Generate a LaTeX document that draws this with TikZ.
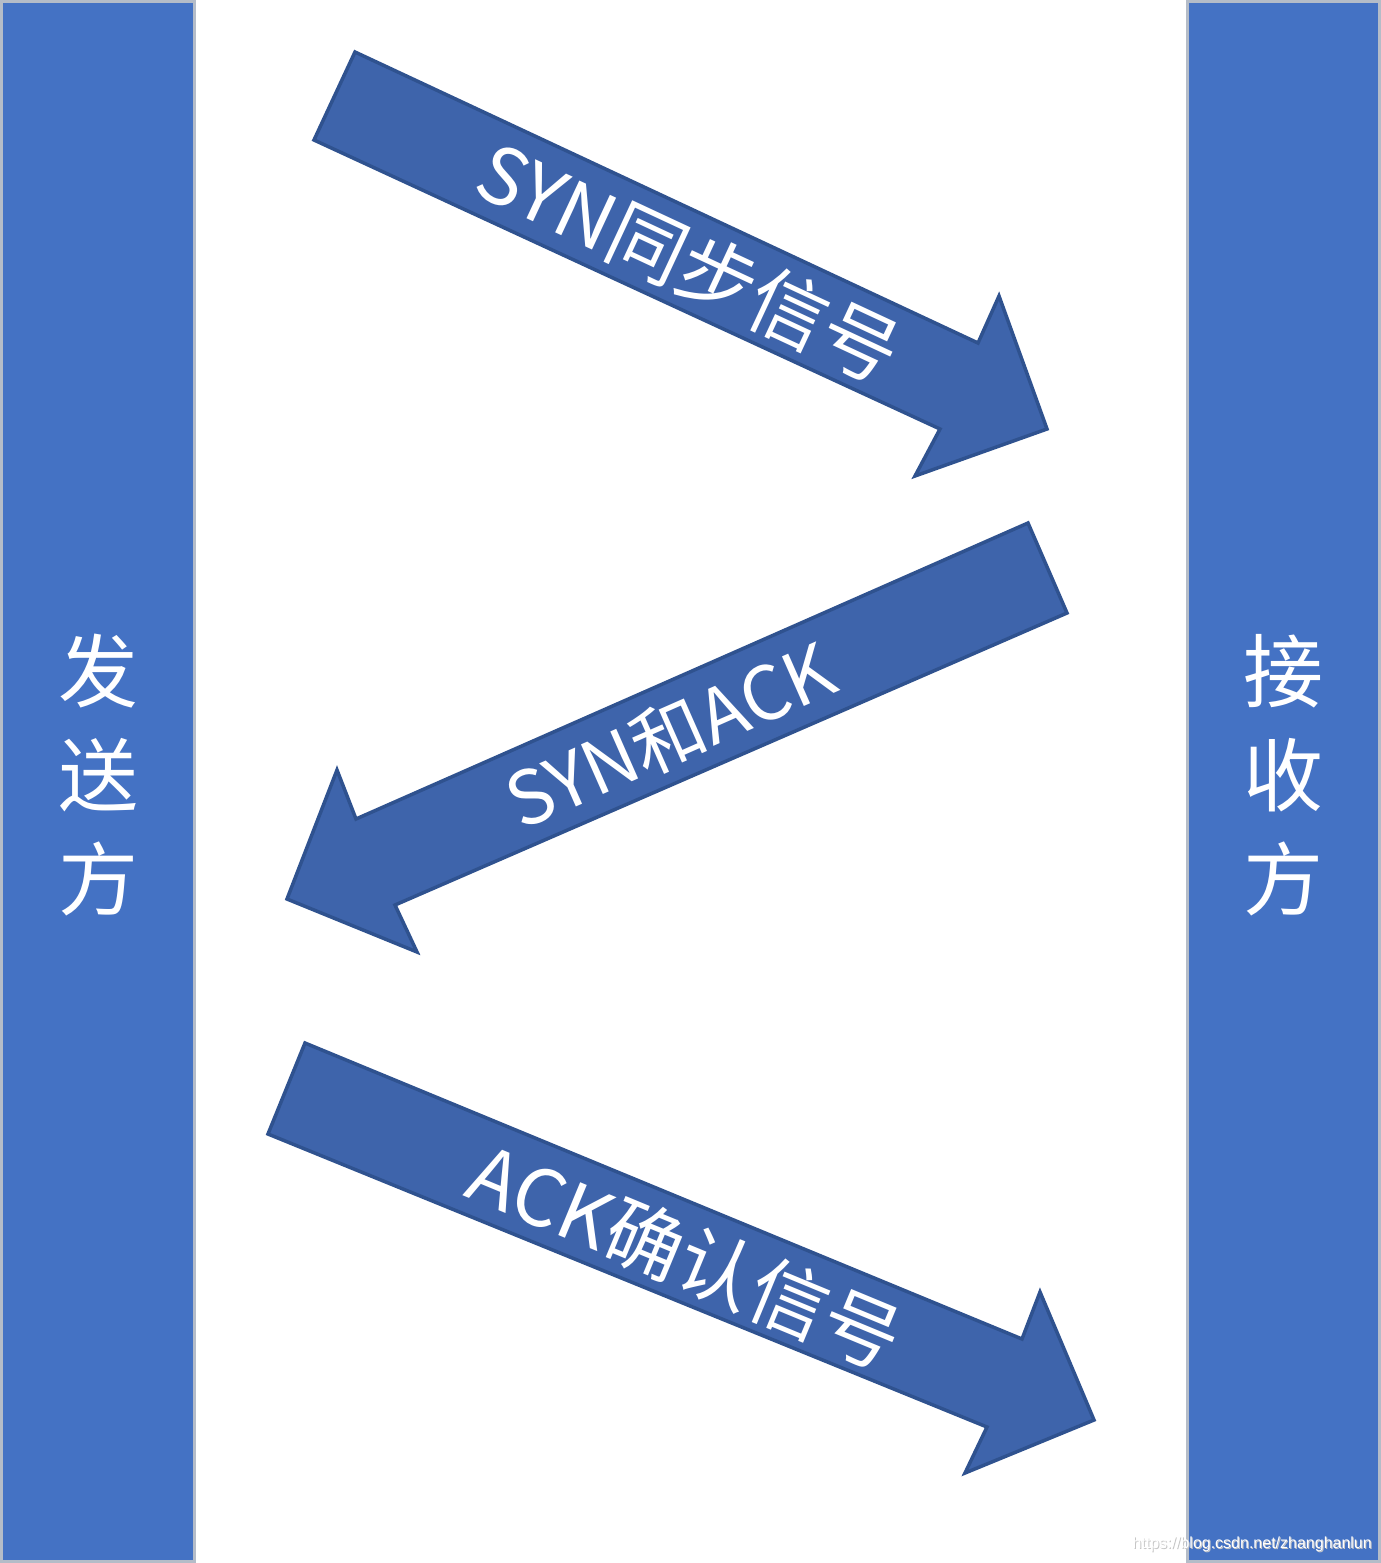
\documentclass[tikz,border=0pt]{standalone}
\usepackage{fontspec}
\setmainfont{Noto Sans CJK SC}
\newfontfamily\wmfont{Liberation Sans}
\definecolor{barblue}{HTML}{4472C4}
\definecolor{barline}{HTML}{B4BCC8}
\definecolor{arrfill}{HTML}{3E64AB}
\definecolor{arrline}{HTML}{2F528F}
\begin{document}
\begin{tikzpicture}[x=1pt,y=-1pt,
  bar/.style={fill=barblue,draw=barline,line width=3pt},
  fatarrow/.style={fill=arrfill,draw=arrline,line width=3.5pt,line join=miter},
  arrtext/.style={text=white,inner sep=0pt},
  sidetext/.style={text=white,font=\fontsize{80}{104}\selectfont,align=center,inner sep=0pt}]
\useasboundingbox (0,0) rectangle (1381,1563);
% bars
\path[bar] (1.5,1.5) rectangle (194.5,1561);
\path[bar] (1187,1.5) rectangle (1379.5,1561);
\node[sidetext] (send) at (98,775) {发\\送\\方};
\node[sidetext] (recv) at (1283,775) {接\\收\\方};
% arrow 1
\path[fatarrow] (355,52) -- (978,343) -- (999,296) -- (1047,429) -- (915,476) -- (940,429) -- (314,140) -- cycle;
\node[arrtext,rotate=-25,font=\fontsize{78}{80}\selectfont] (syn) at (689,262) {SYN同步信号};
% arrow 2
\path[fatarrow] (1028,523) -- (356,819) -- (337,770) -- (287,899) -- (417,952) -- (395,905) -- (1067,613) -- cycle;
\node[arrtext,rotate=23.8,font=\fontsize{74}{80}\selectfont] (synack) at (670,735) {SYN和ACK};
% arrow 3
\path[fatarrow] (305,1043) -- (1022,1339) -- (1040,1292) -- (1094,1420) -- (965,1473) -- (987,1427) -- (268,1134) -- cycle;
\node[arrtext,rotate=-22.5,font=\fontsize{78}{80}\selectfont] (ack) at (686,1256) {ACK确认信号};
% watermark
\node[anchor=south east,inner sep=0pt,text=gray!45,font=\wmfont\fontsize{16}{16}\selectfont] (wm0) at (1373,1553) {https://blog.csdn.net/zhanghanlun};
\node[anchor=south east,inner sep=0pt,text=white,font=\wmfont\fontsize{16}{16}\selectfont] (wm) at (1372,1552) {https://blog.csdn.net/zhanghanlun};
\end{tikzpicture}
\end{document}
